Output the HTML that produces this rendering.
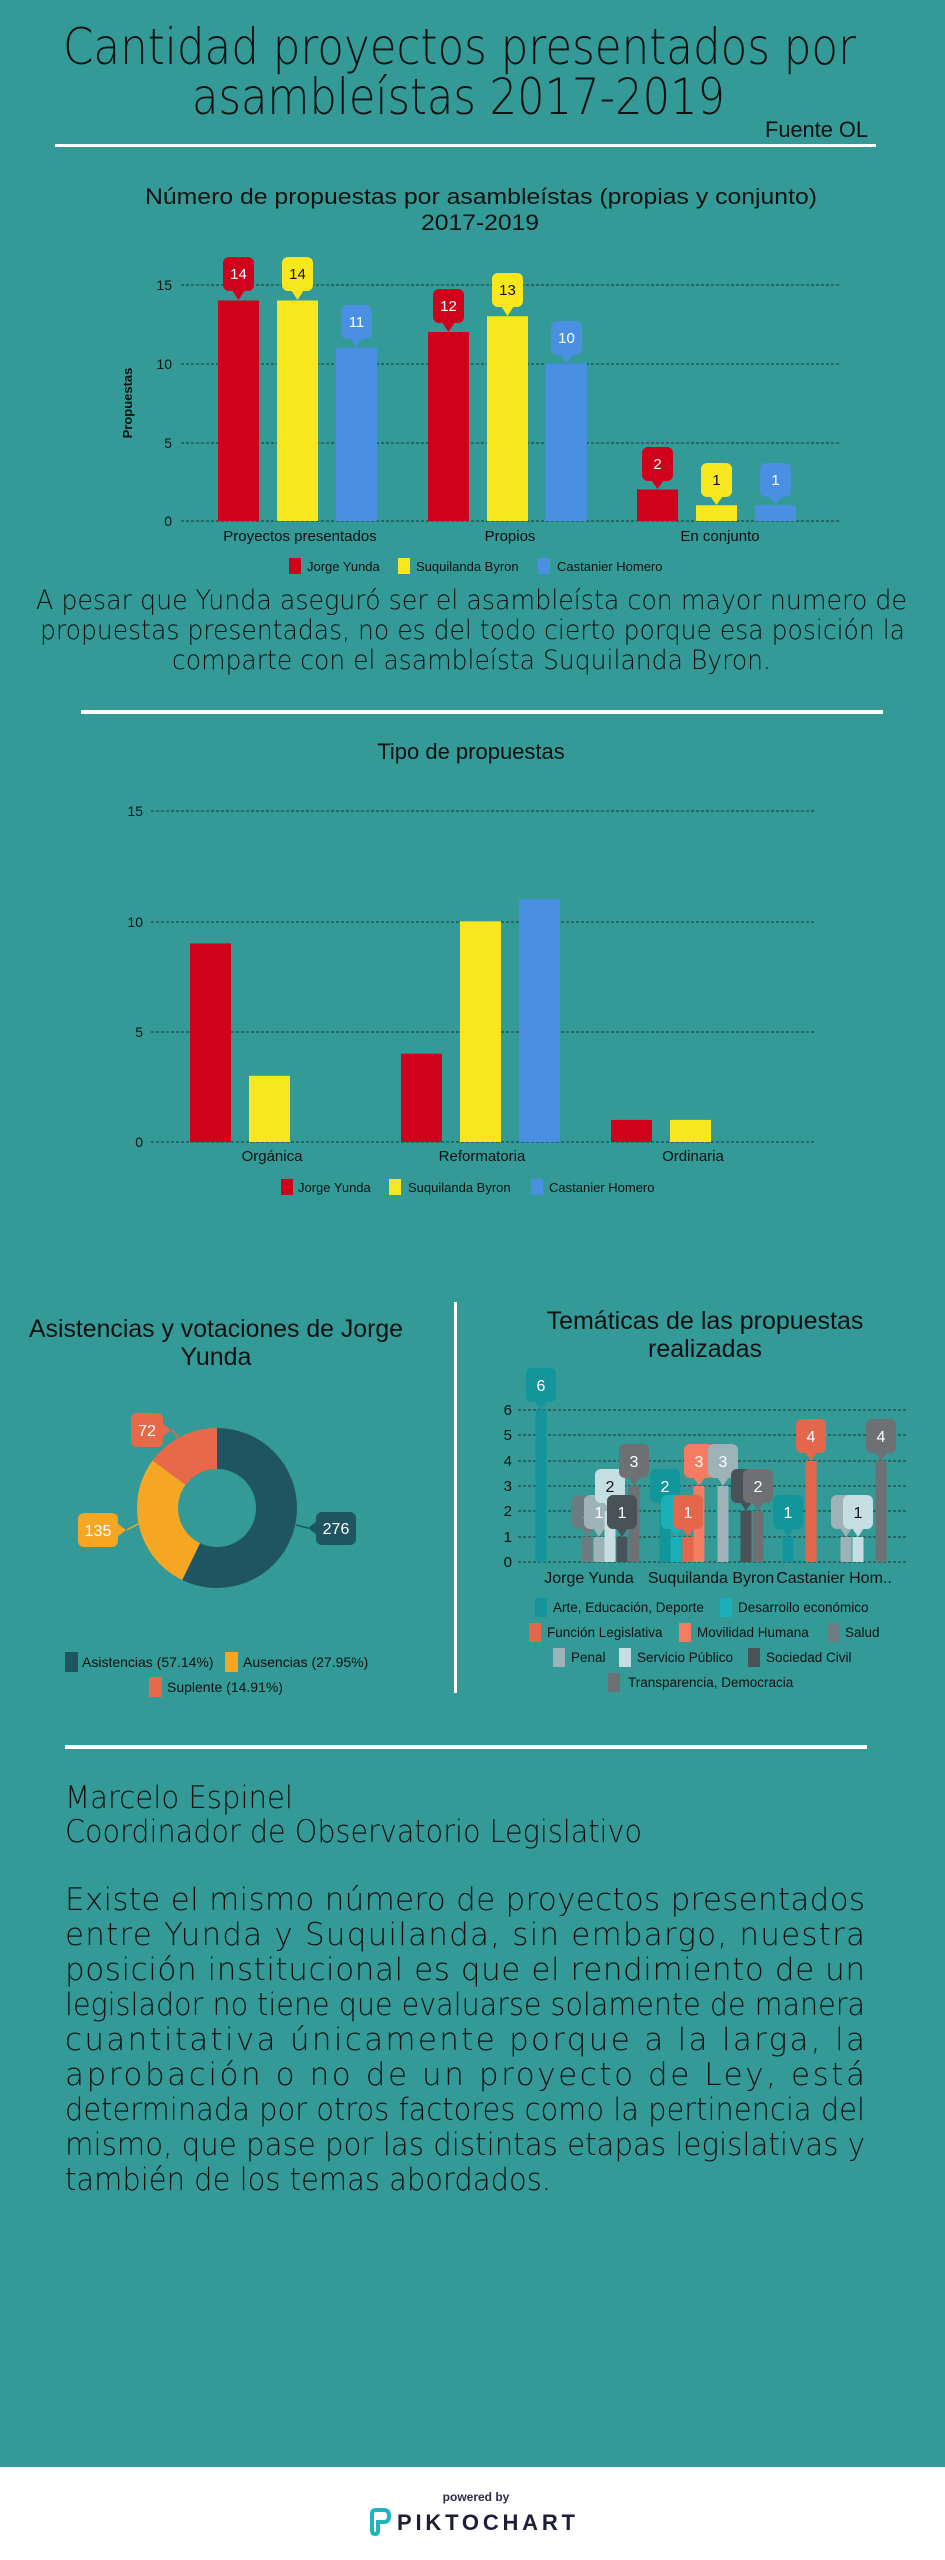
<!DOCTYPE html>
<html><head><meta charset="utf-8"><style>
html,body{margin:0;padding:0;background:#349a97;}
svg{display:block}
.t{font-family:"DejaVu Sans","Liberation Sans",sans-serif;font-weight:200;fill:#111;}
.n{font-family:"Liberation Sans Narrow","Liberation Sans",sans-serif;fill:#111;}
</style></head><body>
<svg width="945" height="2560" viewBox="0 0 945 2560" xmlns="http://www.w3.org/2000/svg">
<rect width="945" height="2560" fill="#349a97"/>
<!-- Header -->
<text class="t" x="63" y="64" font-size="50" textLength="793" lengthAdjust="spacingAndGlyphs">Cantidad proyectos presentados por</text>
<text class="t" x="192" y="114" font-size="50" textLength="533" lengthAdjust="spacingAndGlyphs">asambleístas 2017-2019</text>
<text class="n" x="765" y="137" font-size="22" textLength="103" lengthAdjust="spacingAndGlyphs">Fuente OL</text>
<rect x="55" y="144" width="821" height="3" fill="#fff"/>

<!-- Chart 1 -->
<text class="n" x="145" y="204" font-size="22" textLength="672" lengthAdjust="spacingAndGlyphs">Número de propuestas por asambleístas (propias y conjunto)</text>
<text class="n" x="421" y="230" font-size="22" textLength="118" lengthAdjust="spacingAndGlyphs">2017-2019</text>
<g stroke="#1f4a4a" stroke-width="1.2" stroke-dasharray="3,2">
<line x1="181" y1="285" x2="840" y2="285"/><line x1="181" y1="364" x2="840" y2="364"/><line x1="181" y1="443" x2="840" y2="443"/><line x1="181" y1="521" x2="840" y2="521"/>
</g>
<g class="n" font-size="14" text-anchor="end">
<text x="172" y="290">15</text><text x="172" y="369">10</text><text x="172" y="448">5</text><text x="172" y="526">0</text>
</g>
<text x="132" y="403" transform="rotate(-90 132 403)" text-anchor="middle" font-family="Liberation Sans,sans-serif" font-weight="bold" font-size="13" fill="#111">Propuestas</text>
<g>
<rect x="218" y="300.5" width="41" height="220.5" fill="#d0021b"/>
<rect x="277" y="300.5" width="41" height="220.5" fill="#f8e71c"/>
<rect x="336" y="347.75" width="41" height="173.25" fill="#4a90e2"/>
<rect x="428" y="332" width="41" height="189" fill="#d0021b"/>
<rect x="487" y="316.25" width="41" height="204.75" fill="#f8e71c"/>
<rect x="546" y="363.5" width="41" height="157.5" fill="#4a90e2"/>
<rect x="637" y="489.5" width="41" height="31.5" fill="#d0021b"/>
<rect x="696" y="505.25" width="41" height="15.75" fill="#f8e71c"/>
<rect x="755" y="505.25" width="41" height="15.75" fill="#4a90e2"/>
</g>
<g class="n" font-size="15" text-anchor="middle">
<rect x="223" y="257" width="31" height="34" rx="6" fill="#d0021b"/><polygon points="232,290 245,290 238.5,300" fill="#d0021b"/><text x="238.5" y="279" fill="#fff">14</text>
<rect x="282" y="257" width="31" height="34" rx="6" fill="#f8e71c"/><polygon points="291,290 304,290 297.5,300" fill="#f8e71c"/><text x="297.5" y="279">14</text>
<rect x="341" y="305" width="31" height="34" rx="6" fill="#4a90e2"/><polygon points="350,338 363,338 356.5,347" fill="#4a90e2"/><text x="356.5" y="327" fill="#fff">11</text>
<rect x="433" y="289" width="31" height="34" rx="6" fill="#d0021b"/><polygon points="442,322 455,322 448.5,332" fill="#d0021b"/><text x="448.5" y="311" fill="#fff">12</text>
<rect x="492" y="273" width="31" height="34" rx="6" fill="#f8e71c"/><polygon points="501,306 514,306 507.5,316" fill="#f8e71c"/><text x="507.5" y="295">13</text>
<rect x="551" y="321" width="31" height="34" rx="6" fill="#4a90e2"/><polygon points="560,354 573,354 566.5,363" fill="#4a90e2"/><text x="566.5" y="343" fill="#fff">10</text>
<rect x="642" y="447" width="31" height="34" rx="6" fill="#d0021b"/><polygon points="651,480 664,480 657.5,489" fill="#d0021b"/><text x="657.5" y="469" fill="#fff">2</text>
<rect x="701" y="463" width="31" height="34" rx="6" fill="#f8e71c"/><polygon points="710,496 723,496 716.5,505" fill="#f8e71c"/><text x="716.5" y="485">1</text>
<rect x="760" y="463" width="31" height="34" rx="6" fill="#4a90e2"/><polygon points="769,496 782,496 775.5,505" fill="#4a90e2"/><text x="775.5" y="485" fill="#fff">1</text>
</g>
<g class="n" font-size="15" text-anchor="middle">
<text x="300" y="541">Proyectos presentados</text><text x="510" y="541">Propios</text><text x="720" y="541">En conjunto</text>
</g>
<g class="n" font-size="13">
<rect x="289" y="558" width="12" height="16" fill="#d0021b"/><text x="307" y="571">Jorge Yunda</text>
<rect x="398" y="558" width="12" height="16" fill="#f8e71c"/><text x="416" y="571">Suquilanda Byron</text>
<rect x="538" y="558" width="12" height="16" fill="#4a90e2"/><text x="557" y="571">Castanier Homero</text>
</g>
<text class="t" x="36" y="609" font-size="27" textLength="871" lengthAdjust="spacingAndGlyphs">A pesar que Yunda aseguró ser el asambleísta con mayor numero de</text>
<text class="t" x="40" y="639" font-size="27" textLength="865" lengthAdjust="spacingAndGlyphs">propuestas presentadas, no es del todo cierto porque esa posición la</text>
<text class="t" x="172" y="669" font-size="27" textLength="599" lengthAdjust="spacingAndGlyphs">comparte con el asambleísta Suquilanda Byron.</text>
<rect x="81" y="710" width="802" height="4" fill="#fff"/>

<!-- Chart 2 -->
<text class="n" x="471" y="759" font-size="22" text-anchor="middle">Tipo de propuestas</text>
<g stroke="#1f4a4a" stroke-width="1.2" stroke-dasharray="3,2">
<line x1="151" y1="811" x2="815" y2="811"/><line x1="151" y1="922" x2="815" y2="922"/><line x1="151" y1="1032" x2="815" y2="1032"/><line x1="151" y1="1142" x2="815" y2="1142"/>
</g>
<g class="n" font-size="14" text-anchor="end">
<text x="143" y="816">15</text><text x="143" y="927">10</text><text x="143" y="1037">5</text><text x="143" y="1147">0</text>
</g>
<rect x="190" y="943.4" width="41" height="198.6" fill="#d0021b"/>
<rect x="249" y="1075.8" width="41" height="66.2" fill="#f8e71c"/>
<rect x="401" y="1053.7" width="41" height="88.3" fill="#d0021b"/>
<rect x="460" y="921.3" width="41" height="220.7" fill="#f8e71c"/>
<rect x="519" y="899.2" width="41" height="242.8" fill="#4a90e2"/>
<rect x="611" y="1119.9" width="41" height="22.1" fill="#d0021b"/>
<rect x="670" y="1119.9" width="41" height="22.1" fill="#f8e71c"/>
<g class="n" font-size="15" text-anchor="middle">
<text x="272" y="1161">Orgánica</text><text x="482" y="1161">Reformatoria</text><text x="693" y="1161">Ordinaria</text>
</g>
<g class="n" font-size="13">
<rect x="281" y="1179" width="12" height="16" fill="#d0021b"/><text x="298" y="1192">Jorge Yunda</text>
<rect x="389" y="1179" width="12" height="16" fill="#f8e71c"/><text x="408" y="1192">Suquilanda Byron</text>
<rect x="531" y="1179" width="12" height="16" fill="#4a90e2"/><text x="549" y="1192">Castanier Homero</text>
</g>

<!-- Divider -->
<rect x="454" y="1302" width="3" height="391" fill="#fff"/>

<!-- Donut -->
<text class="n" x="29" y="1337" font-size="25" textLength="374" lengthAdjust="spacingAndGlyphs">Asistencias y votaciones de Jorge</text>
<text class="n" x="216" y="1365" font-size="25" text-anchor="middle">Yunda</text>
<g transform="rotate(-90 217 1508)" fill="none" stroke-width="41">
<circle cx="217" cy="1508" r="59.5" stroke="#1f5560" stroke-dasharray="213.6 400"/>
<circle cx="217" cy="1508" r="59.5" stroke="#f5a623" stroke-dasharray="0 213.6 104.5 400"/>
<circle cx="217" cy="1508" r="59.5" stroke="#e8694a" stroke-dasharray="0 318.1 55.8 400"/>
</g>
<g class="n" font-size="16" text-anchor="middle">
<path d="M296,1525 L308,1528" stroke="#1f5560" stroke-width="1.5"/>
<rect x="316" y="1512" width="40" height="33" rx="6" fill="#1f5560"/><polygon points="317,1521 317,1535 308,1528" fill="#1f5560"/><text x="336" y="1534" fill="#fff">276</text>
<path d="M138,1524 L127,1530" stroke="#f5a623" stroke-width="1.5"/>
<rect x="78" y="1513" width="40" height="34" rx="6" fill="#f5a623"/><polygon points="117,1523 117,1537 126,1530" fill="#f5a623"/><text x="98" y="1536" fill="#fff">135</text>
<path d="M172,1430 L180,1440" stroke="#e8694a" stroke-width="1.5"/>
<rect x="131" y="1413" width="32" height="34" rx="6" fill="#e8694a"/><polygon points="162,1423 162,1437 171,1430" fill="#e8694a"/><text x="147" y="1436" fill="#fff">72</text>
</g>
<g class="n" font-size="14">
<rect x="65" y="1652" width="13" height="20" fill="#1f5560"/><text x="82" y="1667">Asistencias (57.14%)</text>
<rect x="225" y="1652" width="13" height="20" fill="#f5a623"/><text x="243" y="1667">Ausencias (27.95%)</text>
<rect x="149" y="1677" width="13" height="20" fill="#e8694a"/><text x="167" y="1692">Suplente (14.91%)</text>
</g>

<!-- Lollipop chart -->
<text class="n" x="705" y="1329" font-size="25" text-anchor="middle">Temáticas de las propuestas</text>
<text class="n" x="705" y="1357" font-size="25" text-anchor="middle">realizadas</text>
<g stroke="#1f4a4a" stroke-width="1.2" stroke-dasharray="3,2">
<line x1="518" y1="1410" x2="907" y2="1410"/><line x1="518" y1="1435" x2="907" y2="1435"/><line x1="518" y1="1461" x2="907" y2="1461"/><line x1="518" y1="1486" x2="907" y2="1486"/><line x1="518" y1="1511" x2="907" y2="1511"/><line x1="518" y1="1537" x2="907" y2="1537"/><line x1="518" y1="1562" x2="907" y2="1562"/>
</g>
<g class="n" font-size="15" text-anchor="end">
<text x="512" y="1415">6</text><text x="512" y="1440">5</text><text x="512" y="1466">4</text><text x="512" y="1491">3</text><text x="512" y="1516">2</text><text x="512" y="1542">1</text><text x="512" y="1567">0</text>
</g>
<g class="n" font-size="16" text-anchor="middle">
<!-- Jorge -->
<rect x="535.5" y="1410" width="11" height="152" fill="#12959b"/><rect x="526" y="1368" width="30" height="34" rx="6" fill="#12959b"/><polygon points="535,1401 547,1401 541,1410" fill="#12959b"/><text x="541" y="1391" fill="#fff">6</text>
<rect x="581.5" y="1537" width="11" height="25" fill="#6b7d82"/><rect x="572" y="1495" width="30" height="34" rx="6" fill="#6b7d82"/><polygon points="581,1528 593,1528 587,1537" fill="#6b7d82"/><text x="587" y="1518" fill="#fff">1</text>
<rect x="593.5" y="1537" width="11" height="25" fill="#9db3b8"/><rect x="584" y="1495" width="30" height="34" rx="6" fill="#9db3b8"/><polygon points="593,1528 605,1528 599,1537" fill="#9db3b8"/><text x="599" y="1518" fill="#fff">1</text>
<rect x="604.5" y="1511" width="11" height="51" fill="#c5dee1"/><rect x="595" y="1469" width="30" height="34" rx="6" fill="#c5dee1"/><polygon points="604,1502 616,1502 610,1511" fill="#c5dee1"/><text x="610" y="1492">2</text>
<rect x="628.5" y="1486" width="11" height="76" fill="#6d7173"/><rect x="619" y="1444" width="30" height="34" rx="6" fill="#6d7173"/><polygon points="628,1477 640,1477 634,1486" fill="#6d7173"/><text x="634" y="1467" fill="#fff">3</text>
<rect x="616.5" y="1537" width="11" height="25" fill="#485257"/><rect x="607" y="1495" width="30" height="34" rx="6" fill="#485257"/><polygon points="616,1528 628,1528 622,1537" fill="#485257"/><text x="622" y="1518" fill="#fff">1</text>
<!-- Suquilanda -->
<rect x="659.5" y="1511" width="11" height="51" fill="#12959b"/><rect x="650" y="1469" width="30" height="34" rx="6" fill="#12959b"/><polygon points="659,1502 671,1502 665,1511" fill="#12959b"/><text x="665" y="1492" fill="#fff">2</text>
<rect x="670.5" y="1537" width="11" height="25" fill="#1bb0b8"/><rect x="661" y="1495" width="30" height="34" rx="6" fill="#1bb0b8"/><polygon points="670,1528 682,1528 676,1537" fill="#1bb0b8"/>
<rect x="693.5" y="1486" width="11" height="76" fill="#f47c62"/><rect x="684" y="1444" width="30" height="34" rx="6" fill="#f47c62"/><polygon points="693,1477 705,1477 699,1486" fill="#f47c62"/><text x="699" y="1467" fill="#fff">3</text>
<rect x="682.5" y="1537" width="11" height="25" fill="#e5674b"/><rect x="673" y="1495" width="30" height="34" rx="6" fill="#e5674b"/><polygon points="682,1528 694,1528 688,1537" fill="#e5674b"/><text x="688" y="1518" fill="#fff">1</text>
<rect x="717.5" y="1486" width="11" height="76" fill="#9db3b8"/><rect x="708" y="1444" width="30" height="34" rx="6" fill="#9db3b8"/><polygon points="717,1477 729,1477 723,1486" fill="#9db3b8"/><text x="723" y="1467" fill="#fff">3</text>
<rect x="740.5" y="1511" width="11" height="51" fill="#485257"/><rect x="731" y="1469" width="30" height="34" rx="6" fill="#485257"/><polygon points="740,1502 752,1502 746,1511" fill="#485257"/>
<rect x="752.5" y="1511" width="11" height="51" fill="#6d7173"/><rect x="743" y="1469" width="30" height="34" rx="6" fill="#6d7173"/><polygon points="752,1502 764,1502 758,1511" fill="#6d7173"/><text x="758" y="1492" fill="#fff">2</text>
<!-- Castanier -->
<rect x="782.5" y="1537" width="11" height="25" fill="#12959b"/><rect x="773" y="1495" width="30" height="34" rx="6" fill="#12959b"/><polygon points="782,1528 794,1528 788,1537" fill="#12959b"/><text x="788" y="1518" fill="#fff">1</text>
<rect x="805.5" y="1461" width="11" height="101" fill="#e5674b"/><rect x="796" y="1419" width="30" height="34" rx="6" fill="#e5674b"/><polygon points="805,1452 817,1452 811,1461" fill="#e5674b"/><text x="811" y="1442" fill="#fff">4</text>
<rect x="840.5" y="1537" width="11" height="25" fill="#9db3b8"/><rect x="831" y="1495" width="30" height="34" rx="6" fill="#9db3b8"/><polygon points="840,1528 852,1528 846,1537" fill="#9db3b8"/>
<rect x="852.5" y="1537" width="11" height="25" fill="#c5dee1"/><rect x="843" y="1495" width="30" height="34" rx="6" fill="#c5dee1"/><polygon points="852,1528 864,1528 858,1537" fill="#c5dee1"/><text x="858" y="1518">1</text>
<rect x="875.5" y="1461" width="11" height="101" fill="#6d7173"/><rect x="866" y="1419" width="30" height="34" rx="6" fill="#6d7173"/><polygon points="875,1452 887,1452 881,1461" fill="#6d7173"/><text x="881" y="1442" fill="#fff">4</text>
</g>
<g class="n" font-size="16" text-anchor="middle">
<text x="589" y="1583">Jorge Yunda</text><text x="711" y="1583">Suquilanda Byron</text><text x="834" y="1583">Castanier Hom..</text>
</g>
<g class="n" font-size="13.5">
<rect x="535" y="1598" width="12" height="19" fill="#12959b"/><text x="553" y="1612">Arte, Educación, Deporte</text>
<rect x="720" y="1598" width="12" height="19" fill="#1bb0b8"/><text x="738" y="1612">Desarrollo económico</text>
<rect x="529" y="1623" width="12" height="19" fill="#e5674b"/><text x="547" y="1637">Función Legislativa</text>
<rect x="679" y="1623" width="12" height="19" fill="#f47c62"/><text x="697" y="1637">Movilidad Humana</text>
<rect x="827" y="1623" width="12" height="19" fill="#6b7d82"/><text x="845" y="1637">Salud</text>
<rect x="553" y="1648" width="12" height="19" fill="#9db3b8"/><text x="571" y="1662">Penal</text>
<rect x="619" y="1648" width="12" height="19" fill="#c5dee1"/><text x="637" y="1662">Servicio Público</text>
<rect x="748" y="1648" width="12" height="19" fill="#485257"/><text x="766" y="1662">Sociedad Civil</text>
<rect x="608" y="1673" width="12" height="19" fill="#6d7173"/><text x="628" y="1687">Transparencia, Democracia</text>
</g>

<!-- Bottom text -->
<rect x="65" y="1745" width="802" height="4" fill="#fff"/>
<text class="t" x="65" y="1808" font-size="31" textLength="228" lengthAdjust="spacingAndGlyphs">Marcelo Espinel</text>
<text class="t" x="65" y="1842" font-size="31" textLength="577" lengthAdjust="spacingAndGlyphs">Coordinador de Observatorio Legislativo</text>
<g class="t" font-size="31">
<text x="65" y="1910" textLength="800" lengthAdjust="spacing">Existe el mismo número de proyectos presentados</text>
<text x="65" y="1945" textLength="800" lengthAdjust="spacing">entre Yunda y Suquilanda, sin embargo, nuestra</text>
<text x="65" y="1980" textLength="800" lengthAdjust="spacing">posición institucional es que  el rendimiento de un</text>
<text x="65" y="2015" textLength="800" lengthAdjust="spacingAndGlyphs">legislador no tiene que evaluarse solamente de manera</text>
<text x="65" y="2050" textLength="800" lengthAdjust="spacing">cuantitativa únicamente porque a la larga, la</text>
<text x="65" y="2085" textLength="800" lengthAdjust="spacing">aprobación o no de un proyecto de Ley, está</text>
<text x="65" y="2120" textLength="800" lengthAdjust="spacingAndGlyphs">determinada por otros factores como la pertinencia del</text>
<text x="65" y="2155" textLength="800" lengthAdjust="spacingAndGlyphs">mismo, que pase por las distintas etapas legislativas y</text>
<text x="65" y="2190" textLength="486" lengthAdjust="spacingAndGlyphs">también de los temas abordados.</text>
</g>

<!-- Footer -->
<rect x="0" y="2467" width="945" height="93" fill="#fff"/>
<text x="476" y="2501" font-family="Liberation Sans,sans-serif" font-weight="bold" font-size="12" fill="#2b2b45" text-anchor="middle">powered by</text>
<path d="M372,2530 L372,2514 Q372,2510 376,2510 L384,2510 Q389,2510 389,2516 Q389,2522 384,2522 L378,2522 L378,2531 Q378,2534 375,2534 Q372,2534 372,2530 Z" fill="none" stroke="#1fb5c0" stroke-width="4"/>
<text x="397" y="2530" font-family="Liberation Sans,sans-serif" font-weight="bold" font-size="22" fill="#1e1e36" textLength="178" lengthAdjust="spacing">PIKTOCHART</text>
</svg>
</body></html>
